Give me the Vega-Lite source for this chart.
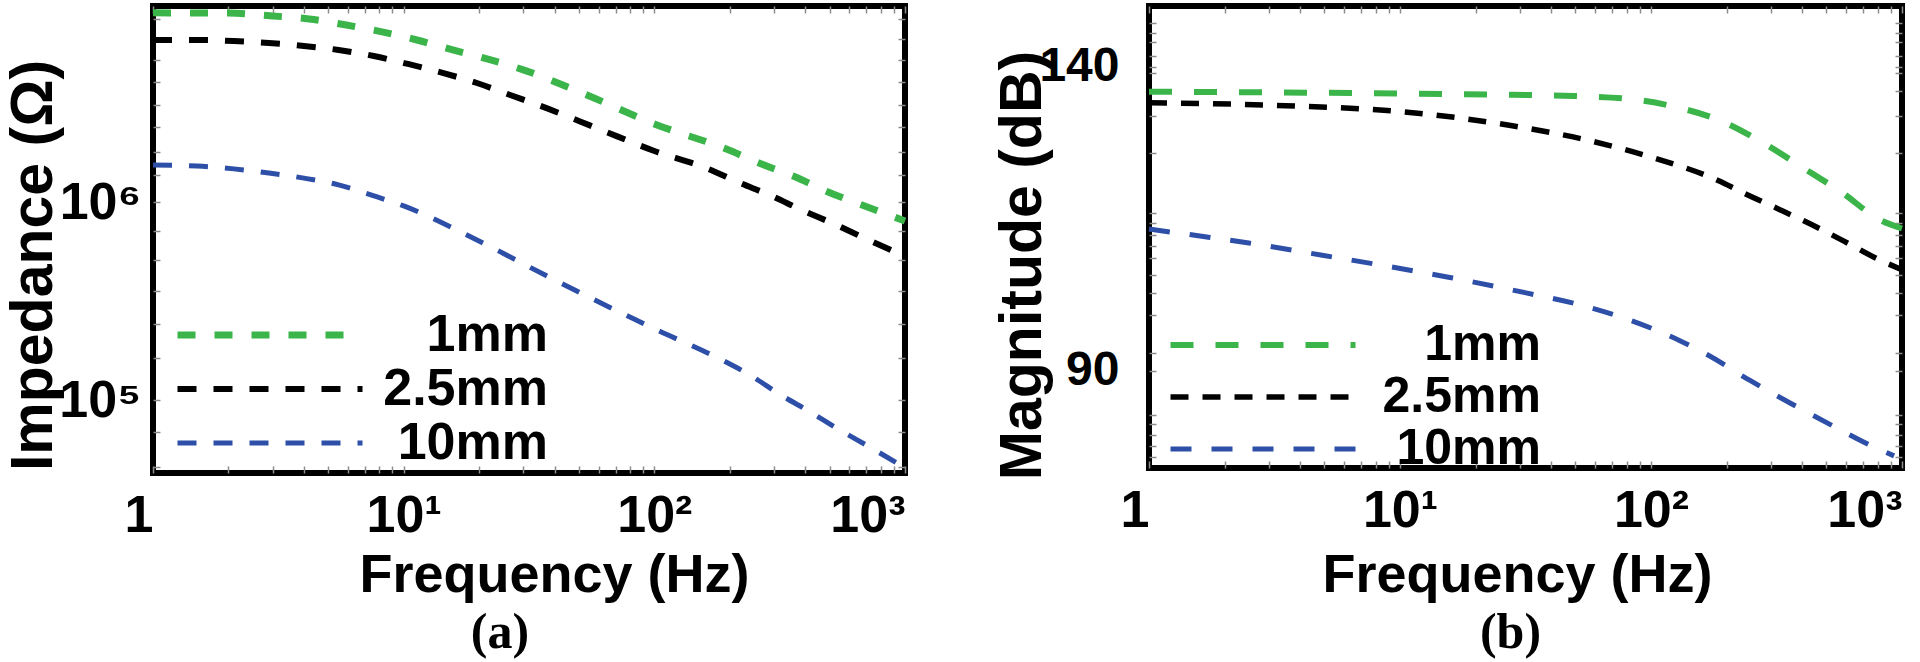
{
  "$schema": "https://vega.github.io/schema/vega-lite/v6.json",
  "autosize": {"type": "pad"},
  "padding": {"left": 0, "top": -5, "right": 0, "bottom": 0},
  "background": "white",
  "bounds": "flush",
  "spacing": 244,
  "datasets": {
    "imp": [
      {"f": 1, "s": "1mm", "z": 9020000}, {"f": 2, "s": "1mm", "z": 9000000}, {"f": 3, "s": "1mm", "z": 8700000},
      {"f": 4.2, "s": "1mm", "z": 8400000}, {"f": 5.9, "s": "1mm", "z": 7830000}, {"f": 8.2, "s": "1mm", "z": 7230000},
      {"f": 11.3, "s": "1mm", "z": 6580000}, {"f": 15.7, "s": "1mm", "z": 5860000}, {"f": 21.7, "s": "1mm", "z": 5270000},
      {"f": 30, "s": "1mm", "z": 4650000}, {"f": 55, "s": "1mm", "z": 3430000}, {"f": 100, "s": "1mm", "z": 2480000},
      {"f": 194, "s": "1mm", "z": 1850000}, {"f": 266, "s": "1mm", "z": 1560000}, {"f": 364, "s": "1mm", "z": 1340000},
      {"f": 496, "s": "1mm", "z": 1120000}, {"f": 674, "s": "1mm", "z": 966000}, {"f": 1000, "s": "1mm", "z": 802000},
      {"f": 1, "s": "2.5mm", "z": 6580000}, {"f": 1.5, "s": "2.5mm", "z": 6580000}, {"f": 2.1, "s": "2.5mm", "z": 6500000},
      {"f": 2.9, "s": "2.5mm", "z": 6350000}, {"f": 4, "s": "2.5mm", "z": 6140000}, {"f": 5.5, "s": "2.5mm", "z": 5860000},
      {"f": 7.6, "s": "2.5mm", "z": 5460000}, {"f": 10.4, "s": "2.5mm", "z": 4980000}, {"f": 14.3, "s": "2.5mm", "z": 4490000},
      {"f": 19.6, "s": "2.5mm", "z": 3990000}, {"f": 26.6, "s": "2.5mm", "z": 3470000}, {"f": 34.4, "s": "2.5mm", "z": 3090000},
      {"f": 60, "s": "2.5mm", "z": 2340000}, {"f": 100, "s": "2.5mm", "z": 1810000}, {"f": 164, "s": "2.5mm", "z": 1470000},
      {"f": 216, "s": "2.5mm", "z": 1260000}, {"f": 290, "s": "2.5mm", "z": 1080000}, {"f": 387, "s": "2.5mm", "z": 912000},
      {"f": 522, "s": "2.5mm", "z": 774000}, {"f": 703, "s": "2.5mm", "z": 650000}, {"f": 1000, "s": "2.5mm", "z": 533000},
      {"f": 1, "s": "10mm", "z": 1540000}, {"f": 1.5, "s": "10mm", "z": 1520000}, {"f": 2.1, "s": "10mm", "z": 1470000},
      {"f": 2.9, "s": "10mm", "z": 1400000}, {"f": 4, "s": "10mm", "z": 1320000}, {"f": 5.5, "s": "10mm", "z": 1220000},
      {"f": 7.5, "s": "10mm", "z": 1080000}, {"f": 10, "s": "10mm", "z": 955000}, {"f": 19.6, "s": "10mm", "z": 643000},
      {"f": 39.4, "s": "10mm", "z": 408000}, {"f": 100, "s": "10mm", "z": 229000}, {"f": 183, "s": "10mm", "z": 161000},
      {"f": 240, "s": "10mm", "z": 134000}, {"f": 316, "s": "10mm", "z": 107000}, {"f": 419, "s": "10mm", "z": 86900},
      {"f": 550, "s": "10mm", "z": 70500}, {"f": 723, "s": "10mm", "z": 57900}, {"f": 1000, "s": "10mm", "z": 45400}
    ],
    "mag": [
      {"f": 1, "s": "1mm", "m": 135.9}, {"f": 3, "s": "1mm", "m": 135.8}, {"f": 10, "s": "1mm", "m": 135.6},
      {"f": 28, "s": "1mm", "m": 135.4}, {"f": 49, "s": "1mm", "m": 135.2}, {"f": 82, "s": "1mm", "m": 134.7},
      {"f": 128, "s": "1mm", "m": 133.3}, {"f": 190, "s": "1mm", "m": 131.1}, {"f": 279, "s": "1mm", "m": 127.5},
      {"f": 403, "s": "1mm", "m": 123.4}, {"f": 577, "s": "1mm", "m": 119.3}, {"f": 817, "s": "1mm", "m": 114.8},
      {"f": 1000, "s": "1mm", "m": 113.4},
      {"f": 1, "s": "2.5mm", "m": 134.1}, {"f": 3.5, "s": "2.5mm", "m": 133.6}, {"f": 10.3, "s": "2.5mm", "m": 132.6},
      {"f": 28, "s": "2.5mm", "m": 130.3}, {"f": 55, "s": "2.5mm", "m": 128.0}, {"f": 99, "s": "2.5mm", "m": 125.2},
      {"f": 185, "s": "2.5mm", "m": 121.3}, {"f": 243, "s": "2.5mm", "m": 118.9}, {"f": 326, "s": "2.5mm", "m": 116.5},
      {"f": 438, "s": "2.5mm", "m": 114.0}, {"f": 582, "s": "2.5mm", "m": 111.4}, {"f": 781, "s": "2.5mm", "m": 108.6},
      {"f": 1000, "s": "2.5mm", "m": 106.6},
      {"f": 1, "s": "10mm", "m": 113.3}, {"f": 1.7, "s": "10mm", "m": 112.0}, {"f": 2.5, "s": "10mm", "m": 111.0},
      {"f": 4.9, "s": "10mm", "m": 109.0}, {"f": 8.6, "s": "10mm", "m": 107.3}, {"f": 16, "s": "10mm", "m": 105.3},
      {"f": 31.8, "s": "10mm", "m": 102.8}, {"f": 52.6, "s": "10mm", "m": 100.8}, {"f": 84, "s": "10mm", "m": 98.2},
      {"f": 131, "s": "10mm", "m": 94.9}, {"f": 170, "s": "10mm", "m": 92.5}, {"f": 248, "s": "10mm", "m": 88.4},
      {"f": 358, "s": "10mm", "m": 84.7}, {"f": 526, "s": "10mm", "m": 81.0}, {"f": 760, "s": "10mm", "m": 77.6},
      {"f": 930, "s": "10mm", "m": 76.0}
    ]
  },
  "resolve": {
    "scale": {"color": "independent", "strokeDash": "independent", "strokeWidth": "independent"},
    "legend": {"color": "independent"}
  },
  "hconcat": [
    {
      "width": 752,
      "height": 467,
      "data": {"name": "imp"},
      "title": {"text": "(a)", "orient": "bottom", "dx": -29, "offset": 6},
      "resolve": {"axis": {"x": "independent", "y": "independent"}},
      "layer": [
        {
          "mark": {"type": "line", "interpolate": "monotone"},
          "encoding": {
            "x": {
              "field": "f", "type": "quantitative",
              "scale": {"type": "log", "domain": [1, 1000], "nice": false},
              "axis": {
                "values": [1,2,3,4,5,6,7,8,9,10,20,30,40,50,60,70,80,90,100,200,300,400,500,600,700,800,900,1000],
                "labelExpr": "datum.value == 1 ? '1' : datum.value == 10 ? '10¹' : datum.value == 100 ? '10²' : datum.value == 1000 ? '10³' : ''",
                "labelFontSize": {"condition": {"test": "datum.value == 1 || datum.value == 10 || datum.value == 100 || datum.value == 1000", "value": 52}, "value": 1},
                "labelAlign": {"condition": {"test": "datum.value == 1 || datum.value == 1000", "value": "right"}, "value": "center"},
                "labelPadding": 24,
                "title": "Frequency (Hz)",
                "titleFontSize": 54,
                "titleX": 401, "titleY": 118, "titleBaseline": "alphabetic", "titleAlign": "center"
              }
            },
            "y": {
              "field": "z", "type": "quantitative",
              "scale": {"type": "log", "domain": [42800, 9770000], "nice": false},
              "axis": {
                "values": [46000,69000,100000,163000,242000,355000,510000,714000,1000000,1370000,1790000,2390000,3090000,4040000,5200000,6650000,8400000],
                "labelExpr": "datum.value == 1000000 ? '10⁶' : datum.value == 100000 ? '10⁵' : ''",
                "labelFontSize": {"condition": {"test": "datum.value == 1000000 || datum.value == 100000", "value": 52}, "value": 1},
                "labelPadding": 19,
                "title": "Impedance (Ω)",
                "titleFontSize": 59,
                "titleX": -120, "titleY": 259, "titleAngle": -90, "titleBaseline": "middle", "titleAlign": "center"
              }
            },
            "color": {
              "field": "s", "type": "nominal",
              "scale": {"domain": ["1mm", "2.5mm", "10mm"], "range": ["#3bb54a", "#000000", "#2e4fa8"]},
              "legend": {"legendX": 17, "legendY": 303, "labelOffset": 326, "symbolType": "M-1,0H9", "symbolSize": 1369, "symbolStrokeWidth": 7, "symbolDash": [36, 22]}
            },
            "strokeDash": {
              "field": "s", "type": "nominal",
              "scale": {"domain": ["1mm", "2.5mm", "10mm"], "range": [[18, 19], [19, 17], [19, 17]]},
              "legend": null
            },
            "strokeWidth": {
              "field": "s", "type": "nominal",
              "scale": {"domain": ["1mm", "2.5mm", "10mm"], "range": [7, 5, 5]},
              "legend": null
            }
          }
        },
        {
          "mark": {"type": "line", "opacity": 0},
          "encoding": {
            "x": {
              "field": "f", "type": "quantitative",
              "scale": {"type": "log", "domain": [1, 1000], "nice": false},
              "axis": {"orient": "top", "labels": false, "title": null,
                "values": [1,2,3,4,5,6,7,8,9,10,20,30,40,50,60,70,80,90,100,200,300,400,500,600,700,800,900,1000]}
            },
            "y": {
              "field": "z", "type": "quantitative",
              "scale": {"type": "log", "domain": [42800, 9770000], "nice": false},
              "axis": {"orient": "right", "labels": false, "title": null,
                "values": [46000,69000,100000,163000,242000,355000,510000,714000,1000000,1370000,1790000,2390000,3090000,4040000,5200000,6650000,8400000]}
            }
          }
        }
      ]
    },
    {
      "width": 753,
      "height": 462,
      "data": {"name": "mag"},
      "title": {"text": "(b)", "orient": "bottom", "dx": -15, "offset": 6},
      "resolve": {"axis": {"x": "independent", "y": "independent"}},
      "layer": [
        {
          "mark": {"type": "line", "interpolate": "monotone"},
          "encoding": {
            "x": {
              "field": "f", "type": "quantitative",
              "scale": {"type": "log", "domain": [1, 1000], "nice": false},
              "axis": {
                "values": [1,2,3,4,5,6,7,8,9,10,20,30,40,50,60,70,80,90,100,200,300,400,500,600,700,800,900,1000],
                "labelExpr": "datum.value == 1 ? '1' : datum.value == 10 ? '10¹' : datum.value == 100 ? '10²' : datum.value == 1000 ? '10³' : ''",
                "labelFontSize": {"condition": {"test": "datum.value == 1 || datum.value == 10 || datum.value == 100 || datum.value == 1000", "value": 52}, "value": 1},
                "labelAlign": {"condition": {"test": "datum.value == 1 || datum.value == 1000", "value": "right"}, "value": "center"},
                "labelPadding": 24,
                "title": "Frequency (Hz)",
                "titleFontSize": 54,
                "titleX": 368, "titleY": 123, "titleBaseline": "alphabetic", "titleAlign": "center"
              }
            },
            "y": {
              "field": "m", "type": "quantitative",
              "scale": {"type": "linear", "domain": [74, 150], "nice": false, "zero": false},
              "axis": {
                "values": [75.8,77.7,79.4,81.2,82.8,90,93,99.2,102.8,105.8,108.6,110.5,112.4,114.3,116,125.9,131.9,136,139,140,141.8,144,145.6,147.2],
                "labelExpr": "datum.value == 140 ? '140' : datum.value == 90 ? '90' : ''",
                "labelFontSize": {"condition": {"test": "datum.value == 140 || datum.value == 90", "value": 48}, "value": 1},
                "labelPadding": 37,
                "title": "Magnitude (dB)",
                "titleFontSize": 59,
                "titleX": -127, "titleY": 259, "titleAngle": -90, "titleBaseline": "middle", "titleAlign": "center"
              }
            },
            "color": {
              "field": "s", "type": "nominal",
              "scale": {"domain": ["1mm", "2.5mm", "10mm"], "range": ["#3bb54a", "#000000", "#2e4fa8"]},
              "legend": {"legendX": 15, "legendY": 314, "labelFontSize": 50, "labelOffset": 327, "symbolType": "M-1,0H9", "symbolSize": 1369, "symbolStrokeWidth": 7, "symbolDash": [36, 22]}
            },
            "strokeDash": {
              "field": "s", "type": "nominal",
              "scale": {"domain": ["1mm", "2.5mm", "10mm"], "range": [[23, 22], [18, 14], [21, 20]]},
              "legend": null
            },
            "strokeWidth": {
              "field": "s", "type": "nominal",
              "scale": {"domain": ["1mm", "2.5mm", "10mm"], "range": [6, 5, 6]},
              "legend": null
            }
          }
        },
        {
          "mark": {"type": "line", "opacity": 0},
          "encoding": {
            "x": {
              "field": "f", "type": "quantitative",
              "scale": {"type": "log", "domain": [1, 1000], "nice": false},
              "axis": {"orient": "top", "labels": false, "title": null,
                "values": [1,2,3,4,5,6,7,8,9,10,20,30,40,50,60,70,80,90,100,200,300,400,500,600,700,800,900,1000]}
            },
            "y": {
              "field": "m", "type": "quantitative",
              "scale": {"type": "linear", "domain": [74, 150], "nice": false, "zero": false},
              "axis": {"orient": "right", "labels": false, "title": null,
                "values": [75.8,77.7,79.4,81.2,82.8,90,93,99.2,102.8,105.8,108.6,110.5,112.4,114.3,116,125.9,131.9,136,139,140,141.8,144,145.6,147.2]}
            }
          }
        }
      ]
    }
  ],
  "config": {
    "view": {"stroke": "#000000", "strokeWidth": 6},
    "axis": {
      "grid": false, "domain": false,
      "tickColor": "#8c8c8c", "tickSize": -7, "tickWidth": 1.5,
      "labelFont": "Liberation Sans Narrow, Liberation Sans", "labelFontWeight": "bold", "labelColor": "#000000",
      "labelOverlap": false, "labelBound": false, "labelFlush": false,
      "titleFont": "Liberation Sans", "titleFontWeight": "bold", "titleColor": "#000000"
    },
    "legend": {
      "orient": "none", "title": null, "padding": 0,
      "labelFont": "Liberation Sans", "labelFontWeight": "bold", "labelFontSize": 52, "labelColor": "#000000",
      "labelAlign": "right", "labelBaseline": "middle", "labelLimit": 600
    },
    "title": {"font": "Liberation Serif", "fontWeight": "bold", "fontSize": 50, "color": "#000000", "anchor": "middle"}
  }
}
